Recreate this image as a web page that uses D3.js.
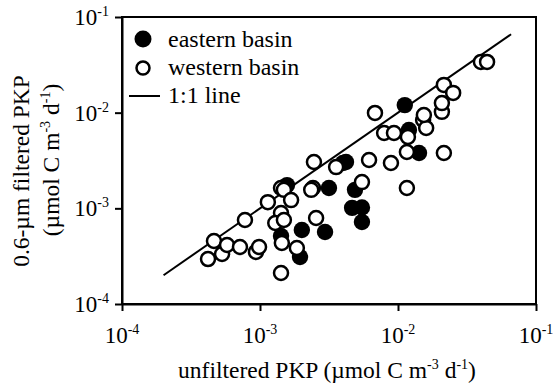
<!DOCTYPE html>
<html><head><meta charset="utf-8">
<script src="https://cdn.jsdelivr.net/npm/d3@7"></script>
<style>
body{margin:0;background:#fff}
</style>
</head><body>
<svg id="chart" width="556" height="383"></svg>
<script>
// eastern basin (filled)
const eastX = [1.12e-2, 1.20e-2, 1.42e-2, 3.99e-3, 4.20e-3, 3.16e-3, 2.01e-3, 1.95e-3, 2.96e-3, 1.57e-3, 1.42e-3, 4.65e-3, 5.48e-3, 5.48e-3, 4.88e-3];
const eastY = [1.20e-2, 6.59e-3, 3.79e-3, 2.98e-3, 3.05e-3, 1.63e-3, 5.94e-4, 3.10e-4, 5.66e-4, 1.75e-3, 5.14e-4, 1.01e-3, 1.02e-3, 7.19e-4, 1.56e-3];
// western basin (open)
const westX = [4.20e-4, 4.64e-4, 5.31e-4, 5.77e-4, 7.16e-4, 7.78e-4, 9.35e-4, 9.84e-4, 1.14e-3, 1.42e-3, 1.49e-3, 1.68e-3, 1.42e-3, 1.29e-3, 1.49e-3, 1.44e-3, 1.85e-3, 1.42e-3, 2.42e-3, 2.35e-3, 2.46e-3, 2.55e-3, 3.56e-3, 5.48e-3, 6.17e-3, 6.81e-3, 7.93e-3, 9.35e-3, 8.89e-3, 1.16e-2, 1.16e-2, 1.18e-2, 1.52e-2, 1.60e-2, 1.54e-2, 2.08e-2, 2.08e-2, 2.15e-2, 2.51e-2, 2.15e-2, 3.99e-2, 4.42e-2];
const westY = [2.95e-4, 4.56e-4, 3.33e-4, 4.14e-4, 3.94e-4, 7.55e-4, 3.50e-4, 3.94e-4, 1.16e-3, 1.63e-3, 1.56e-3, 1.22e-3, 8.93e-4, 7.03e-4, 7.55e-4, 4.34e-4, 3.85e-4, 2.11e-4, 1.63e-3, 1.56e-3, 3.05e-3, 7.93e-4, 2.70e-3, 1.88e-3, 3.20e-3, 9.93e-3, 6.13e-3, 6.13e-3, 2.98e-3, 1.63e-3, 3.88e-3, 5.57e-3, 8.38e-3, 6.92e-3, 9.46e-3, 1.02e-2, 1.26e-2, 1.95e-2, 1.61e-2, 3.79e-3, 3.39e-2, 3.39e-2];
// 1:1 line extent
const lineVals = [2e-4, 0.066];
const tickVals = [1e-4, 1e-3, 1e-2, 1e-1];
const tickExps = ["-4", "-3", "-2", "-1"];
const legendLabels = ["eastern basin", "western basin", "1:1 line"];

const FONT = "'Liberation Serif', 'Times New Roman', serif";
const svg = d3.select("#chart");
const L = 122, R = 536, T = 17, B = 304;
const x = d3.scaleLog().domain([1e-4, 1e-1]).range([L, R]);
const y = d3.scaleLog().domain([1e-4, 1e-1]).range([B, T]);

function txt(sel) { return sel.append("text").style("font-family", FONT).attr("fill", "#000"); }

// frame
svg.append("rect").attr("x", L).attr("y", T).attr("width", R - L).attr("height", B - T)
  .attr("fill", "none").attr("stroke", "#000").attr("stroke-width", 2);

// axes (ticks only)
const ax = svg.append("g").attr("transform", `translate(0,${B})`)
  .call(d3.axisBottom(x).tickValues(tickVals).tickSize(7).tickSizeOuter(0).tickFormat(""));
const ay = svg.append("g").attr("transform", `translate(${L},0)`)
  .call(d3.axisLeft(y).tickValues(tickVals).tickSize(7).tickSizeOuter(0).tickFormat(""));
[ax, ay].forEach(g => {
  g.select(".domain").attr("stroke", "#000").attr("stroke-width", 2);
  g.selectAll(".tick line").attr("stroke", "#000").attr("stroke-width", 2);
});

// x tick labels
tickVals.forEach((v, i) => {
  const t = txt(svg).attr("x", x(v)).attr("y", 343).attr("text-anchor", "middle").style("font-size", "23px");
  t.append("tspan").text("10");
  t.append("tspan").attr("dy", -9).style("font-size", "14px").text(tickExps[i]);
});
// y tick labels
tickVals.forEach((v, i) => {
  const t = txt(svg).attr("x", 109).attr("y", y(v) + 8).attr("text-anchor", "end").style("font-size", "23px");
  t.append("tspan").text("10");
  t.append("tspan").attr("dy", -9).style("font-size", "14px").text(tickExps[i]);
});

// axis titles
const xt = txt(svg).attr("x", 327).attr("y", 378).attr("text-anchor", "middle").style("font-size", "23.5px");
xt.append("tspan").text("unfiltered PKP (\u00B5mol C m");
xt.append("tspan").attr("dy", -9).style("font-size", "14px").text("-3");
xt.append("tspan").attr("dy", 9).text(" d");
xt.append("tspan").attr("dy", -9).style("font-size", "14px").text("-1");
xt.append("tspan").attr("dy", 9).text(")");

txt(svg).attr("transform", "translate(29,171) rotate(-90)").attr("text-anchor", "middle").style("font-size", "23.5px")
  .text("0.6-\u00B5m filtered PKP");
const yt2 = txt(svg).attr("transform", "translate(59,160) rotate(-90)").attr("text-anchor", "middle").style("font-size", "23.5px");
yt2.append("tspan").text("(\u00B5mol C m");
yt2.append("tspan").attr("dy", -9).style("font-size", "14px").text("-3");
yt2.append("tspan").attr("dy", 9).text(" d");
yt2.append("tspan").attr("dy", -9).style("font-size", "14px").text("-1");
yt2.append("tspan").attr("dy", 9).text(")");

// 1:1 line
svg.append("line").attr("x1", x(lineVals[0])).attr("y1", y(lineVals[0]))
  .attr("x2", x(lineVals[1])).attr("y2", y(lineVals[1]))
  .attr("stroke", "#000").attr("stroke-width", 2);

// points
const east = eastX.map((v, i) => [v, eastY[i]]);
const west = westX.map((v, i) => [v, westY[i]]);
svg.append("g").selectAll("circle").data(east).join("circle")
  .attr("cx", d => x(d[0])).attr("cy", d => y(d[1])).attr("r", 8.2).attr("fill", "#000");
svg.append("g").selectAll("circle").data(west).join("circle")
  .attr("cx", d => x(d[0])).attr("cy", d => y(d[1])).attr("r", 7).attr("fill", "#fff")
  .attr("stroke", "#000").attr("stroke-width", 2.5);

// legend
const lg = svg.append("g");
lg.append("circle").attr("cx", 143).attr("cy", 39).attr("r", 8.5).attr("fill", "#000");
lg.append("circle").attr("cx", 143).attr("cy", 68).attr("r", 6.5).attr("fill", "#fff").attr("stroke", "#000").attr("stroke-width", 2.5);
lg.append("line").attr("x1", 129).attr("x2", 160).attr("y1", 96).attr("y2", 96).attr("stroke", "#000").attr("stroke-width", 2);
legendLabels.forEach((s, i) => {
  txt(lg).attr("x", 168).attr("y", 47 + i * 28).style("font-size", "24px").text(s);
});
</script>
</body></html>
